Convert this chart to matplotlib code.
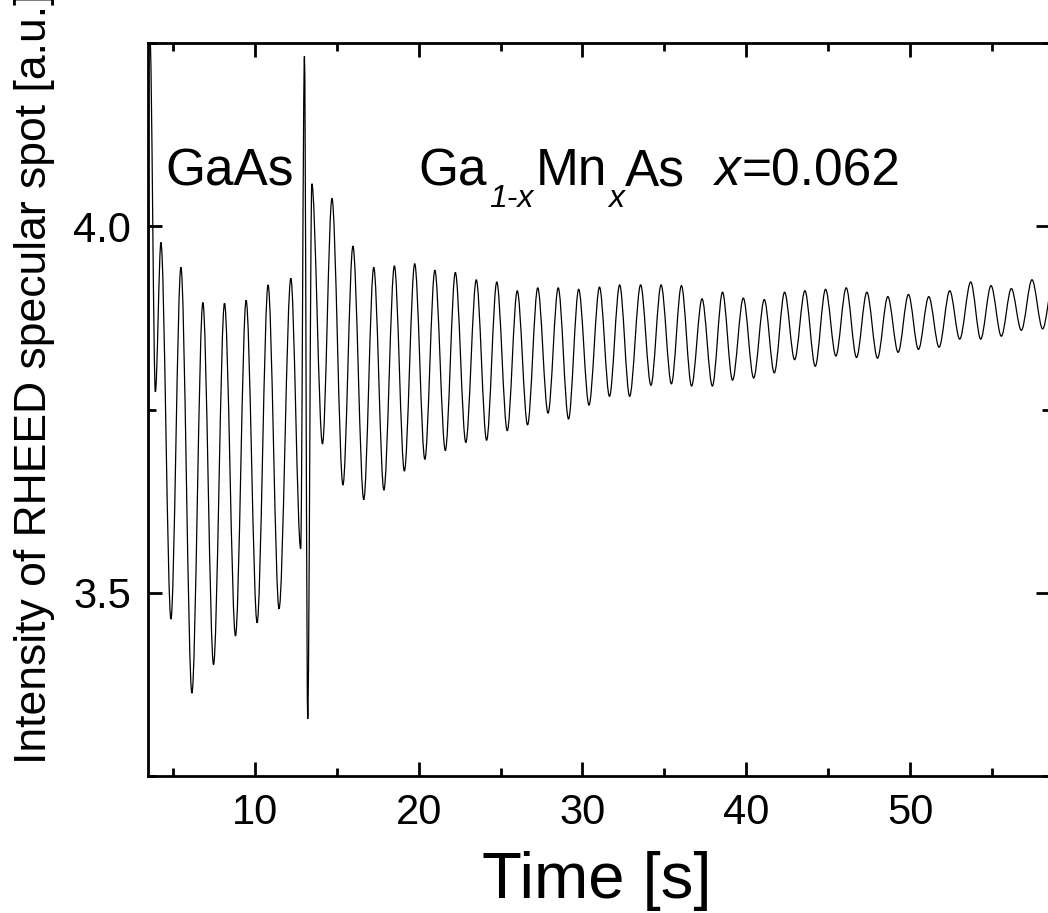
import numpy as np
import matplotlib.pyplot as plt
from matplotlib.path import Path
from matplotlib.patches import PathPatch
from matplotlib.ticker import MultipleLocator

plt.rcParams['font.family'] = ['Liberation Sans', 'DejaVu Sans']

# extrema of the RHEED trace
time_s = [3.60, 3.93, 4.27, 4.88, 5.49, 6.16, 6.83, 7.48, 8.15, 8.82,
          9.47, 10.14, 10.81, 11.48, 12.20, 12.80, 13.03, 13.23, 13.48, 14.13,
          14.71, 15.38, 15.99, 16.65, 17.26, 17.88, 18.52, 19.13, 19.76, 20.38,
          20.99, 21.63, 22.24, 22.88, 23.52, 24.15, 24.77, 25.41, 26.02, 26.65,
          27.27, 27.90, 28.52, 29.15, 29.77, 30.40, 31.04, 31.65, 32.27, 32.88,
          33.55, 34.18, 34.80, 35.43, 36.04, 36.66, 37.30, 37.93, 38.55, 39.16,
          39.82, 40.45, 41.10, 41.71, 42.34, 42.95, 43.58, 44.21, 44.84, 45.47,
          46.10, 46.73, 47.36, 48.01, 48.64, 49.27, 49.90, 50.51, 51.14, 51.77,
          52.42, 53.03, 53.70, 54.31, 54.94, 55.57, 56.18, 56.79, 57.44, 58.09,
          58.72]
intensity = [4.26, 3.774, 3.978, 3.464, 3.944, 3.363, 3.896, 3.402, 3.895, 3.441,
             3.899, 3.459, 3.920, 3.478, 3.929, 3.560, 4.232, 3.328, 4.058, 3.703,
             4.038, 3.647, 3.973, 3.627, 3.944, 3.640, 3.946, 3.666, 3.949, 3.682,
             3.940, 3.694, 3.937, 3.705, 3.927, 3.708, 3.924, 3.721, 3.912, 3.729,
             3.916, 3.745, 3.916, 3.737, 3.914, 3.756, 3.917, 3.768, 3.920, 3.768,
             3.920, 3.783, 3.920, 3.785, 3.919, 3.782, 3.901, 3.782, 3.910, 3.790,
             3.902, 3.793, 3.900, 3.800, 3.910, 3.818, 3.912, 3.809, 3.914, 3.823,
             3.916, 3.821, 3.910, 3.820, 3.904, 3.828, 3.907, 3.832, 3.904, 3.835,
             3.912, 3.846, 3.924, 3.846, 3.919, 3.850, 3.915, 3.858, 3.927, 3.860,
             3.922]

fig = plt.figure(figsize=(10.48, 9.13), dpi=100)
ax = fig.add_axes([148/1048, 1 - 776/913, 902/1048, 733/913])

# smooth trace: cubic bezier between extrema, flat tangent at each extremum
verts = [(time_s[0], intensity[0])]
codes = [Path.MOVETO]
for i in range(1, len(time_s)):
    t0, t1 = time_s[i-1], time_s[i]
    y0, y1 = intensity[i-1], intensity[i]
    dt = t1 - t0
    verts += [(t0 + dt/3, y0), (t1 - dt/3, y1), (t1, y1)]
    codes += [Path.CURVE4] * 3
ax.add_patch(PathPatch(Path(verts, codes), fill=False, edgecolor='black', lw=0.9))

ax.set_xlim(3.48, 58.54)
ax.set_ylim(3.25, 4.25)
ax.set_xticks([10, 20, 30, 40, 50])
ax.xaxis.set_minor_locator(MultipleLocator(5))
ax.set_yticks([3.5, 4.0])
ax.yaxis.set_minor_locator(MultipleLocator(0.25))

ax.tick_params(which='both', direction='in', top=True, right=True, width=2,
               labelsize=30, pad=12)
ax.tick_params(which='major', length=10)
ax.tick_params(which='minor', length=5.5)
for sp in ax.spines.values():
    sp.set_linewidth(2)

ax.set_xlabel('Time [s]', fontsize=47)
ax.xaxis.set_label_coords(0.498, -0.102)
ax.set_ylabel('Intensity of RHEED specular spot [a.u.]', fontsize=32)
ax.yaxis.set_label_coords(-0.103, 0.543)

ax.text(4.57, 4.056, 'GaAs', fontsize=37, va='baseline', ha='left')

# Ga(1-x)Mn(x)As  x=0.062, built piece by piece so the subscripts sit low
FS, SUB, DROP = 37, 23, 13
ga = ax.text(20.0, 4.056, 'Ga', fontsize=FS, va='baseline', ha='left')
s1 = ax.annotate('1-x', xy=(1, 0), xycoords=ga, xytext=(1.5, -DROP),
                 textcoords='offset points', fontsize=SUB, style='italic', va='bottom')
mn = ax.annotate('Mn', xy=(1, 0), xycoords=(s1, ga), xytext=(1.5, 0),
                 textcoords='offset points', fontsize=FS, va='bottom')
s2 = ax.annotate('x', xy=(1, 0), xycoords=mn, xytext=(1, -DROP),
                 textcoords='offset points', fontsize=SUB, style='italic', va='bottom')
as_ = ax.annotate('As', xy=(1, 0), xycoords=(s2, ga), xytext=(0.5, 0),
                  textcoords='offset points', fontsize=FS, va='bottom')
xi = ax.annotate('x', xy=(1, 0), xycoords=as_, xytext=(21, 0),
                 textcoords='offset points', fontsize=FS, style='italic', va='bottom')
ax.annotate('=0.062', xy=(1, 0), xycoords=xi, xytext=(1, 0),
            textcoords='offset points', fontsize=FS, va='bottom')

fig.savefig('out.png', dpi=100)
